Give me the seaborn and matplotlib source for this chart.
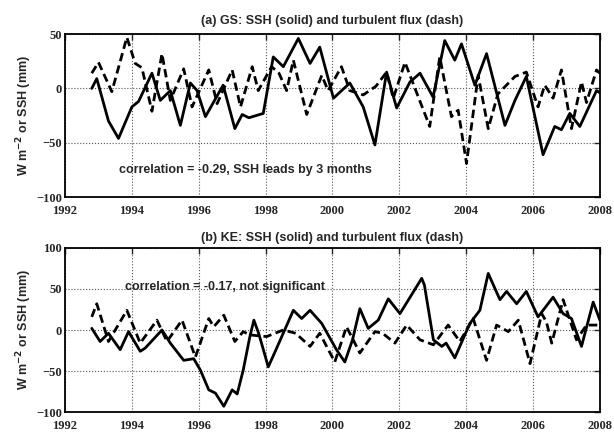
import numpy as np
import pandas as pd
import matplotlib
matplotlib.use('Agg')
import matplotlib.pyplot as plt
import seaborn as sns

# (a) GS: SSH (solid)
gs_ssh_t = [1992.8, 1992.95, 1993.3, 1993.6, 1994.0, 1994.2, 1994.6, 1994.85, 1995.15, 1995.45,
            1995.75, 1995.95, 1996.2, 1996.73, 1997.08, 1997.3, 1997.5, 1997.93, 1998.23, 1998.53,
            1998.98, 1999.33, 1999.62, 2000.03, 2000.52, 2000.92, 2001.27, 2001.62, 2001.92, 2002.32,
            2002.62, 2003.01, 2003.36, 2003.66, 2003.86, 2004.26, 2004.61, 2005.16, 2005.46, 2005.8,
            2006.3, 2006.65, 2006.85, 2007.1, 2007.4, 2007.9, 2008.0]
gs_ssh_v = [0, 9, -30, -46, -17, -12, 14, -11, -2, -34,
            5, -2, -26, 3, -37, -24, -27, -23, 29, 20,
            46, 23, 38, -9, 5, -17, -52, 15, -18, 6,
            14, -8, 44, 26, 41, 3, 32, -34, -11, 11,
            -61, -35, -38, -23, -35, -2, -4]

# (a) GS: turbulent flux (dash)
gs_flx_t = [1992.8, 1993.0, 1993.4, 1993.85, 1994.1, 1994.3, 1994.6, 1994.9, 1995.15, 1995.55,
            1995.8, 1996.3, 1996.55, 1997.0, 1997.25, 1997.6, 1997.78, 1998.18, 1998.4, 1998.63,
            1998.83, 1999.23, 1999.68, 1999.87, 2000.27, 2000.52, 2000.92, 2001.3, 2001.62, 2001.82,
            2002.17, 2002.52, 2002.91, 2003.21, 2003.56, 2003.76, 2004.01, 2004.36, 2004.66, 2004.95,
            2005.46, 2005.8, 2006.15, 2006.35, 2006.6, 2006.85, 2007.15, 2007.45, 2007.6, 2007.9, 2008.0]
gs_flx_v = [14, 24, -3, 47, 23, 19, -21, 32, -11, 18,
            -17, 17, -14, 17, -17, 20, -2, 20, 14, -2,
            26, -24, 12, -2, 20, -2, -6, 2, 15, -9,
            24, -4, -35, 29, -26, -20, -69, 12, -37, -5,
            11, 15, -17, 3, -9, 17, -37, 6, -13, 17, 14]

# (b) KE: SSH (solid)
ke_ssh_t = [1992.8, 1993.05, 1993.3, 1993.65, 1993.9, 1994.25, 1994.4, 1994.9, 1995.15, 1995.55,
            1995.85, 1996.05, 1996.3, 1996.5, 1996.75, 1997.0, 1997.15, 1997.33, 1997.53, 1997.65,
            1997.8, 1998.08, 1998.3, 1998.83, 1999.08, 1999.33, 1999.68, 2000.12, 2000.37, 2000.6,
            2000.82, 2001.07, 2001.37, 2001.67, 2002.02, 2002.67, 2002.75, 2003.02, 2003.27, 2003.4,
            2003.66, 2004.11, 2004.41, 2004.66, 2005.01, 2005.21, 2005.51, 2005.8, 2006.15, 2006.6,
            2006.9, 2007.15, 2007.45, 2007.8, 2008.0]
ke_ssh_v = [2, -14, -4, -24, -2, -26, -22, 0, -16, -37,
            -35, -49, -73, -77, -93, -73, -78, -49, -8, 12,
            -5, -45, -25, 24, 14, 24, 8, -24, -39, -12,
            26, 2, 12, 38, 20, 63, 55, -12, -20, -16,
            -34, 8, 24, 69, 37, 47, 32, 47, 16, 40,
            20, 14, -20, 34, 12]

# (b) KE: turbulent flux (dash)
ke_flx_t = [1992.8, 1992.95, 1993.3, 1993.85, 1994.25, 1994.75, 1995.05, 1995.5, 1995.9, 1996.3,
            1996.45, 1996.75, 1997.08, 1997.33, 1997.53, 1998.03, 1998.53, 1998.9, 1999.33, 1999.62,
            2000.07, 2000.42, 2000.82, 2001.27, 2001.5, 2001.87, 2002.22, 2002.62, 2003.02, 2003.46,
            2003.81, 2004.21, 2004.61, 2004.91, 2005.26, 2005.56, 2005.91, 2006.26, 2006.4, 2006.56,
            2006.9, 2007.3, 2007.6, 2008.0]
ke_flx_v = [16, 32, -14, 24, -16, 12, -14, 12, -33, 14,
            4, 18, -14, -2, -6, -8, 0, -4, -20, -4,
            -39, 4, -28, -2, -4, -16, 6, -12, -18, 6,
            -14, 14, -37, 6, -2, 12, -41, 20, 10, -16,
            37, -12, 6, 6]

years = list(range(1992, 2009, 2))
ylabel = 'W m$^{\\mathbf{-2}}$ or SSH (mm)'

sns.set_style('white')
plt.rcParams['font.family'] = ['Liberation Sans', 'DejaVu Sans']

fig = plt.figure(figsize=(6.14, 4.37), dpi=100)
ax1 = fig.add_axes([0.1059, 0.549, 0.8711, 0.373])
ax2 = fig.add_axes([0.1059, 0.0572, 0.8711, 0.3753])

panels = [
    (ax1, gs_ssh_t, gs_ssh_v, gs_flx_t, gs_flx_v, [-100, -50, 0, 50], (-100, 50),
     '(a) GS: SSH (solid) and turbulent flux (dash)', 7,
     'correlation = -0.29, SSH leads by 3 months', (1993.6, -75)),
    (ax2, ke_ssh_t, ke_ssh_v, ke_flx_t, ke_flx_v, [-100, -50, 0, 50, 100], (-100, 100),
     '(b) KE: SSH (solid) and turbulent flux (dash)', 5,
     'correlation = -0.17, not significant', (1993.8, 52)),
]

for ax, st, sv, ft, fv, yt, ylim, title, pad, note, pos in panels:
    sns.lineplot(x=st, y=sv, ax=ax, color='black', lw=2.0, sort=False, estimator=None)
    sns.lineplot(x=ft, y=fv, ax=ax, color='black', lw=2.0, sort=False, estimator=None,
                 linestyle=(0, (3, 1.6)))
    ax.set_xlim(1992, 2008)
    ax.set_ylim(*ylim)
    ax.set_xticks(years)
    ax.set_yticks(yt)
    ax.grid(True, linestyle=':', color='#555555', lw=0.8)
    for s in ax.spines.values():
        s.set_color('black')
        s.set_linewidth(1.3)
    ax.tick_params(direction='in', length=4, width=1, top=True, right=True,
                   labelsize=9)
    ax.tick_params(axis='y', pad=2)
    ax.tick_params(axis='x', pad=6)
    for lab in ax.get_xticklabels() + ax.get_yticklabels():
        lab.set_fontfamily(['Liberation Serif', 'DejaVu Serif'])
        lab.set_fontweight('bold')
    ax.set_title(title, fontsize=9, fontweight='bold', pad=pad)
    ax.set_ylabel(ylabel, fontsize=9, fontweight='bold', labelpad=2)
    ax.set_xlabel('')
    ax.text(pos[0], pos[1], note, fontsize=9, fontweight='bold', va='center', ha='left')

fig.savefig('out.png', dpi=100)
